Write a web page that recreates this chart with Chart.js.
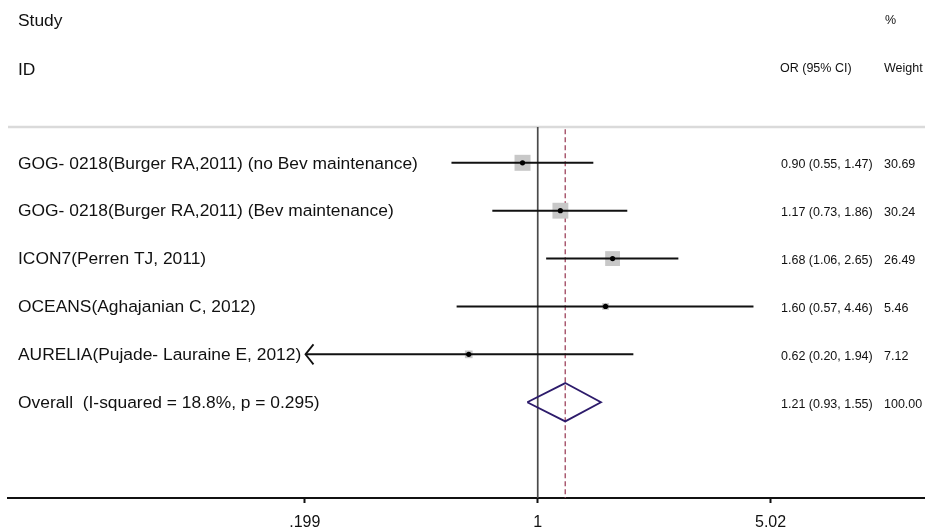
<!DOCTYPE html>
<html>
<head>
<meta charset="utf-8">
<script src="https://cdn.jsdelivr.net/npm/chart.js@4.4.0/dist/chart.umd.min.js"></script>
<style>
  html, body { margin: 0; padding: 0; background: #fff; }
</style>
</head>
<body>
<canvas id="forest" width="925" height="531"></canvas>
<script>
// Forest plot: OR (95% CI) per study, log x axis

const studies = [
  'GOG- 0218(Burger RA,2011) (no Bev maintenance)',
  'GOG- 0218(Burger RA,2011) (Bev maintenance)',
  'ICON7(Perren TJ, 2011)',
  'OCEANS(Aghajanian C, 2012)',
  'AURELIA(Pujade- Lauraine E, 2012)'
];
const orVals  = [0.90, 1.17, 1.68, 1.60, 0.62];
const ciLow   = [0.55, 0.73, 1.06, 0.57, 0.20];
const ciHigh  = [1.47, 1.86, 2.65, 4.46, 1.94];
const weights = [30.69, 30.24, 26.49, 5.46, 7.12];
const arrowLow = [false, false, false, false, true];

const overallLabel = 'Overall  (I-squared = 18.8%, p = 0.295)';
const overallOr = 1.21, overallLow = 0.93, overallHigh = 1.55, overallWeight = 100.00;

const xTicks = [0.199, 1, 5.02];
const xTickLabels = ['.199', '1', '5.02'];

const FONT = '"Liberation Sans", Arial, Helvetica, sans-serif';
Chart.defaults.font.family = FONT;

const X_MIN = 0.02545, X_MAX = 14.64;
const rowOf = i => i + 1;
const overallRow = studies.length + 1;
const sepRow = 0.25;

const ciSets = studies.map((s, i) => ({
  data: [{x: ciLow[i], y: rowOf(i)}, {x: ciHigh[i], y: rowOf(i)}],
  showLine: true, pointRadius: 0, borderColor: '#111', borderWidth: 2
}));

const fmt = v => v.toFixed(2);

const textPlugin = {
  id: 'forestText',
  afterDraw(chart) {
    const {ctx, scales: {x, y}} = chart;
    ctx.save();
    ctx.fillStyle = '#111';
    ctx.textBaseline = 'middle';
    ctx.textAlign = 'left';

    // headers
    ctx.font = '17.4px ' + FONT;
    ctx.fillText('Study', 18, y.getPixelForValue(-1.96));
    ctx.fillText('ID', 18, y.getPixelForValue(-0.93));
    ctx.font = '12.5px ' + FONT;
    ctx.fillText('%', 885, y.getPixelForValue(-1.97));
    ctx.fillText('OR (95% CI)', 780, y.getPixelForValue(-0.97));
    ctx.fillText('Weight', 884, y.getPixelForValue(-0.97));

    // rows
    studies.forEach((s, i) => {
      const py = y.getPixelForValue(rowOf(i));
      ctx.font = '17.4px ' + FONT;
      ctx.fillText(s, 18, py + 1);
      ctx.font = '12.5px ' + FONT;
      ctx.fillText(fmt(orVals[i]) + ' (' + fmt(ciLow[i]) + ', ' + fmt(ciHigh[i]) + ')', 781, py + 2);
      ctx.fillText(fmt(weights[i]), 884, py + 2);
    });
    const oy = y.getPixelForValue(overallRow);
    ctx.font = '17.4px ' + FONT;
    ctx.fillText(overallLabel, 18, oy + 1);
    ctx.font = '12.5px ' + FONT;
    ctx.fillText(fmt(overallOr) + ' (' + fmt(overallLow) + ', ' + fmt(overallHigh) + ')', 781, oy + 2);
    ctx.fillText(fmt(overallWeight), 884, oy + 2);

    // arrow heads for truncated CIs
    ctx.strokeStyle = '#111';
    ctx.lineWidth = 1.8;
    studies.forEach((s, i) => {
      if (!arrowLow[i]) return;
      const px = x.getPixelForValue(ciLow[i]);
      const py = y.getPixelForValue(rowOf(i));
      ctx.beginPath();
      ctx.moveTo(px + 8, py - 10);
      ctx.lineTo(px, py);
      ctx.lineTo(px + 8, py + 10);
      ctx.stroke();
    });
    ctx.restore();
  }
};

new Chart(document.getElementById('forest'), {
  type: 'scatter',
  data: {
    datasets: [
      {
        // point estimates
        data: orVals.map((v, i) => ({x: v, y: rowOf(i)})),
        pointRadius: 2.6, backgroundColor: '#000', borderWidth: 0
      },
      ...ciSets,
      {
        // weight boxes
        data: orVals.map((v, i) => ({x: v, y: rowOf(i)})),
        pointStyle: 'rect',
        pointRadius: weights.map(w => 2.888 * Math.sqrt(w) / Math.SQRT2),
        backgroundColor: '#c8c8c8', borderWidth: 0
      },
      {
        // overall diamond
        data: [
          {x: overallLow, y: overallRow}, {x: overallOr, y: overallRow - 0.4},
          {x: overallHigh, y: overallRow}, {x: overallOr, y: overallRow + 0.4},
          {x: overallLow, y: overallRow}
        ],
        showLine: true, pointRadius: 0, borderColor: '#2d1b6b', borderWidth: 1.8
      },
      {
        // overall estimate line
        data: [{x: overallOr, y: sepRow + 0.05}, {x: overallOr, y: 8}],
        showLine: true, pointRadius: 0, borderColor: '#a55068', borderWidth: 1.4, borderDash: [5, 3]
      },
      {
        // null line
        data: [{x: 1, y: sepRow}, {x: 1, y: 8}],
        showLine: true, pointRadius: 0, borderColor: '#4a4a4a', borderWidth: 1.7
      },
      {
        // header separator
        data: [{x: X_MIN, y: sepRow}, {x: X_MAX, y: sepRow}],
        showLine: true, pointRadius: 0, borderColor: '#dadada', borderWidth: 2.5
      }
    ]
  },
  options: {
    responsive: false,
    animation: false,
    events: [],
    layout: { autoPadding: false, padding: { left: 8, right: 0, top: 0, bottom: -12 } },
    plugins: { legend: { display: false }, tooltip: { enabled: false } },
    scales: {
      x: {
        type: 'logarithmic',
        min: X_MIN, max: X_MAX, bounds: 'data',
        afterBuildTicks: s => { s.ticks = xTicks.map(v => ({value: v})); },
        ticks: {
          callback: v => xTickLabels[xTicks.indexOf(v)],
          font: { size: 16 }, color: '#111', padding: 10.4,
          maxRotation: 0, autoSkip: false
        },
        grid: { drawOnChartArea: false, drawTicks: true, tickLength: 5, tickColor: '#111', tickWidth: 2 },
        border: { display: true, color: '#111', width: 2 }
      },
      y: {
        type: 'linear', display: false, reverse: true, min: -2.4, max: 8
      }
    }
  },
  plugins: [textPlugin]
});
</script>
</body>
</html>
